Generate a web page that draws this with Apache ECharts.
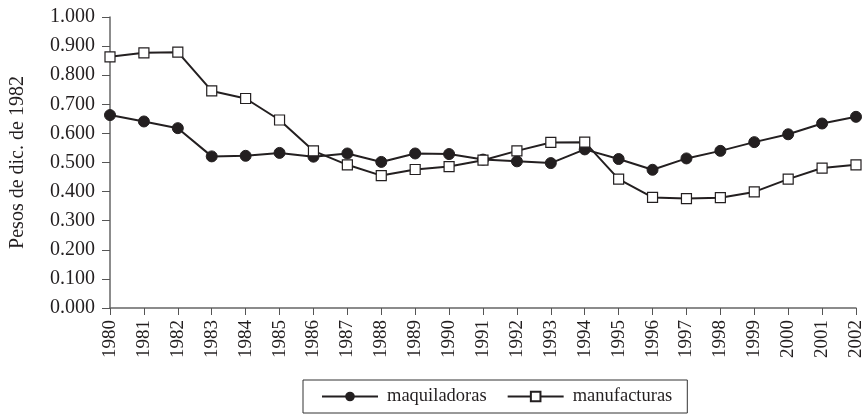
<!DOCTYPE html>
<html>
<head>
<meta charset="utf-8">
<script src="https://cdn.jsdelivr.net/npm/echarts@6/dist/echarts.min.js"></script>
<style>
  html, body { margin: 0; padding: 0; background: #fff; }
  #chart { width: 864px; height: 415px; }
</style>
</head>
<body>
<div id="chart"></div>
<script>
const years = ['1980', '1981', '1982', '1983', '1984', '1985', '1986', '1987', '1988', '1989', '1990', '1991',
  '1992', '1993', '1994', '1995', '1996', '1997', '1998', '1999', '2000', '2001', '2002']
const maquiladoras = [0.663, 0.641, 0.618, 0.521, 0.523, 0.533, 0.520, 0.531, 0.502, 0.531, 0.529, 0.510,
  0.504, 0.498, 0.545, 0.512, 0.475, 0.514, 0.540, 0.570, 0.597, 0.634, 0.657]
const manufacturas = [0.863, 0.877, 0.879, 0.746, 0.720, 0.646, 0.540, 0.492, 0.455, 0.476, 0.486, 0.508,
  0.540, 0.569, 0.570, 0.443, 0.380, 0.376, 0.379, 0.399, 0.443, 0.481, 0.492]

const font = 'Liberation Serif'
const ink = '#231f20'

const chart = echarts.init(document.getElementById('chart'))
chart.setOption({
  animation: false,
  textStyle: { fontFamily: font },
  grid: { left: 110, right: 8, top: 17, bottom: 107, outerBoundsMode: 'none', containLabel: false },
  legend: {
    bottom: 2,
    left: 303,
    itemWidth: 56,
    itemHeight: 12,
    itemGap: 20,
    padding: [7, 15, 7, 18],
    borderColor: '#333',
    borderWidth: 1,
    textStyle: { fontFamily: font, fontSize: 18.5, color: ink, padding: [0, 0, 0, 4] }
  },
  xAxis: {
    type: 'category',
    data: years,
    boundaryGap: false,
    axisLine: { lineStyle: { color: '#666', width: 1.5 } },
    axisTick: { alignWithLabel: true, length: 7, lineStyle: { color: '#555' } },
    axisLabel: { rotate: 90, interval: 0, fontSize: 19, color: ink, margin: 12 }
  },
  yAxis: {
    type: 'value',
    min: 0,
    max: 1,
    interval: 0.1,
    name: 'Pesos de dic. de 1982',
    nameLocation: 'middle',
    nameGap: 82,
    nameTextStyle: { fontFamily: font, fontSize: 20, color: ink },
    splitLine: { show: false },
    axisLine: { show: true, lineStyle: { color: '#666', width: 1.5 } },
    axisTick: { show: true, length: 8, lineStyle: { color: '#555' } },
    axisLabel: { fontSize: 20, color: ink, margin: 15, formatter: v => v.toFixed(3) }
  },
  series: [
    {
      name: 'maquiladoras',
      type: 'line',
      data: maquiladoras,
      symbol: 'circle',
      symbolSize: 11,
      lineStyle: { color: ink, width: 2 },
      itemStyle: { color: ink, borderColor: ink }
    },
    {
      name: 'manufacturas',
      type: 'line',
      data: manufacturas,
      symbol: 'rect',
      symbolSize: 10,
      lineStyle: { color: ink, width: 2 },
      itemStyle: { color: '#fff', borderColor: ink, borderWidth: 1.2 }
    }
  ]
})
</script>
</body>
</html>
